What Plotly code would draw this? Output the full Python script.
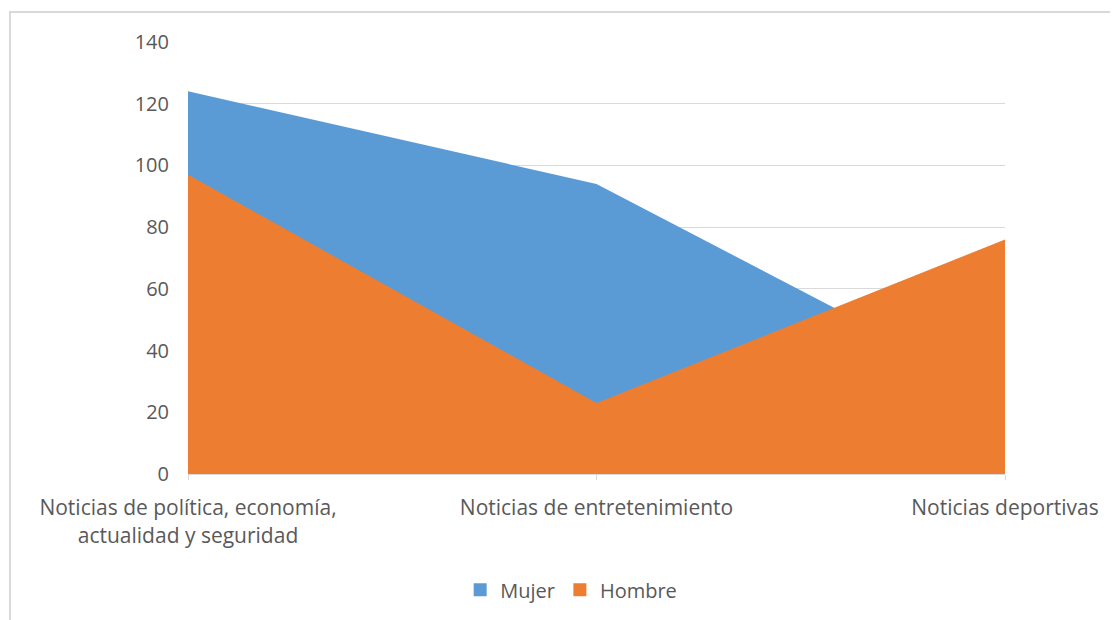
import plotly.graph_objects as go

categories = ["Noticias de política, economía,<br>actualidad y seguridad",
              "Noticias de entretenimiento",
              "Noticias deportivas"]
mujer = [124, 94, 25]
hombre = [97, 23, 76]
y_ticks = [0, 20, 40, 60, 80, 100, 120, 140]

BLUE = "#5B9BD5"
ORANGE = "#ED7D31"
FONT = "Open Sans"

fig = go.Figure()
fig.add_trace(go.Scatter(x=categories, y=mujer, fill="tozeroy", mode="none",
                         fillcolor=BLUE, showlegend=False, name="Mujer"))
fig.add_trace(go.Scatter(x=categories, y=hombre, fill="tozeroy", mode="none",
                         fillcolor=ORANGE, showlegend=False, name="Hombre"))
for name, color in [("Mujer", BLUE), ("Hombre", ORANGE)]:
    fig.add_trace(go.Scatter(x=[None], y=[None], mode="markers", name=name,
                             marker=dict(symbol="square", size=13, color=color)))

fig.update_layout(
    width=1110, height=612,
    margin=dict(l=180, r=113, t=34, b=145),
    paper_bgcolor="white", plot_bgcolor="white",
    font=dict(family=FONT, size=20, color="#595959"),
    xaxis=dict(type="category", range=[0, 2], showgrid=False,
               showline=True, linecolor="#d9d9d9", linewidth=1,
               ticks="outside", ticklen=5, tickcolor="#d9d9d9",
               ticklabelstandoff=10,
               tickfont=dict(size=21, color="#595959"), zeroline=False),
    yaxis=dict(range=[0, 140], tickvals=y_ticks, showgrid=True,
               gridcolor="#d9d9d9", gridwidth=1, zeroline=False,
               showline=False, ticks="", ticklabelstandoff=18,
               tickfont=dict(size=20, color="#595959")),
    legend=dict(orientation="h", x=0.469, xanchor="center", y=-0.265,
                yanchor="middle", font=dict(size=20, color="#595959"),
                itemwidth=30, tracegroupgap=0),
    shapes=[dict(type="rect", xref="paper", yref="paper",
                 x0=-0.2179, y0=-0.5, x1=1.3, y1=1.0693,
                 line=dict(color="#d9d9d9", width=2), layer="below")],
)

fig.write_html("out.html")
